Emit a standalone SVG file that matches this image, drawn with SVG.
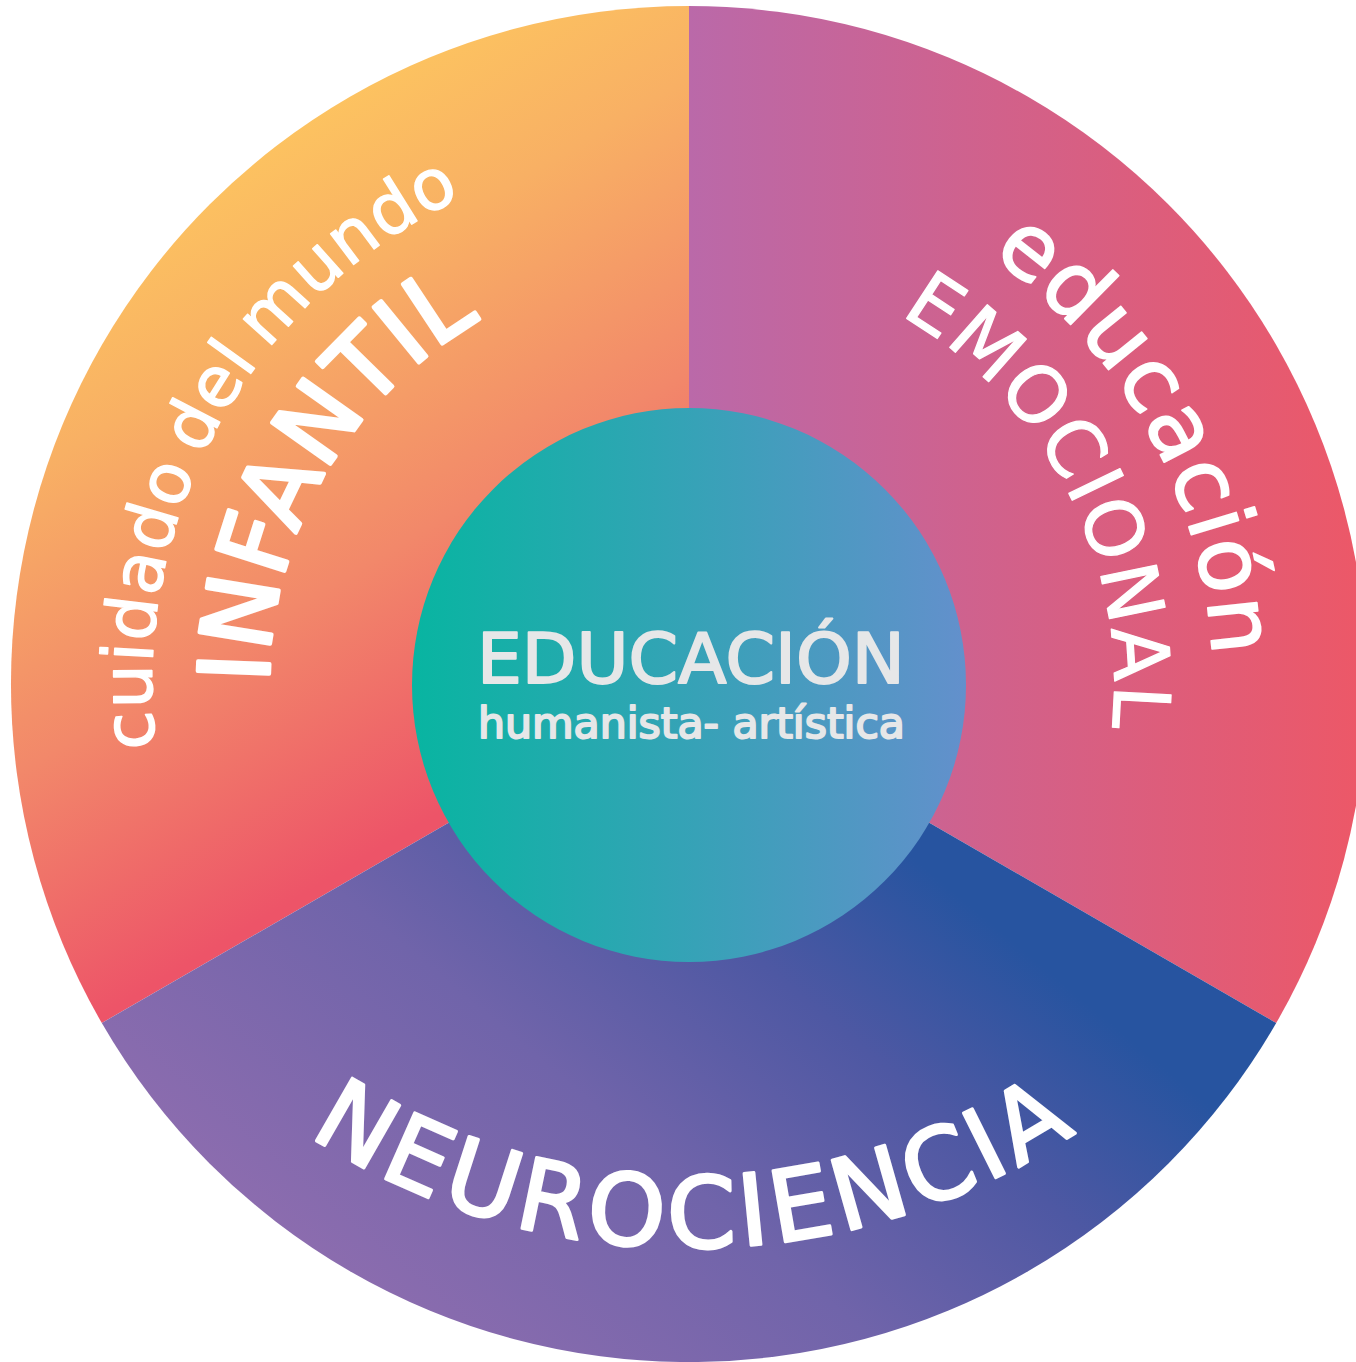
<svg xmlns="http://www.w3.org/2000/svg" xmlns:xlink="http://www.w3.org/1999/xlink" width="1356" height="1362" viewBox="0 0 1356 1362">
  <style>
    .lbl { font-family: "DejaVu Sans", "Liberation Sans", sans-serif; fill: #FFFFFF; stroke: #FFFFFF; stroke-linejoin: round; }
    .small { font-size: 70px; stroke-width: 1.4px; }
    .big { font-size: 98px; stroke-width: 4px; }
    .edu { font-size: 90px; stroke-width: 1.8px; }
    .emo { font-size: 78px; stroke-width: 1.2px; }
    .neuro { font-size: 99px; stroke-width: 3px; }
    .center { font-family: "DejaVu Sans", "Liberation Sans", sans-serif; fill: #E6E7E8; stroke: #E6E7E8; stroke-linejoin: round; text-anchor: middle; }
  </style>
  <defs>
    <linearGradient id="gOrange" gradientUnits="userSpaceOnUse" x1="330" y1="40" x2="700" y2="657">
      <stop offset="0" stop-color="#FEC95F"/>
      <stop offset="0.3" stop-color="#F8B064"/>
      <stop offset="0.65" stop-color="#F2886A"/>
      <stop offset="1" stop-color="#ED5468"/>
    </linearGradient>
    <linearGradient id="gPink" gradientUnits="userSpaceOnUse" x1="689" y1="0" x2="1356" y2="0">
      <stop offset="0" stop-color="#BA69A9"/>
      <stop offset="1" stop-color="#EC5868"/>
    </linearGradient>
    <linearGradient id="gPurple" gradientUnits="userSpaceOnUse" x1="420" y1="1380" x2="880" y2="830">
      <stop offset="0" stop-color="#8E6DAF"/>
      <stop offset="0.45" stop-color="#7064AA"/>
      <stop offset="0.75" stop-color="#4E58A3"/>
      <stop offset="1" stop-color="#2754A0"/>
    </linearGradient>
    <linearGradient id="gCenter" gradientUnits="userSpaceOnUse" x1="412" y1="0" x2="966" y2="0">
      <stop offset="0" stop-color="#08B5A1"/>
      <stop offset="1" stop-color="#6390CC"/>
    </linearGradient>
    <path id="pCuidado" d="M223.94,952.5 A537,537 0 0 1 689,147"/>
    <path id="pInfantil" d="M325.27,894 A420,420 0 0 1 689,264"/>
    <path id="pEducacion" d="M689,160 A524,524 0 0 1 1142.8,946"/>
    <path id="pEmocional" d="M689,259 A425,425 0 0 1 1057.1,896.5"/>
    <path id="pNeuro" d="M83.78,898 A700,700 0 0 0 1296.22,898"/>
  </defs>

  <g id="sector-infantil">
    <path d="M689,684 L689,6 A678,678 0 0 0 101.8,1023 Z" fill="url(#gOrange)"/>
    <text class="lbl small" text-anchor="middle" letter-spacing="1" word-spacing="-8"><textPath href="#pCuidado" xlink:href="#pCuidado" startOffset="553.9">cuidado del mundo</textPath></text>
    <text class="lbl big" text-anchor="middle" letter-spacing="1"><textPath href="#pInfantil" xlink:href="#pInfantil" startOffset="441.3">INFANTIL</textPath></text>
  </g>

  <g id="sector-emocional">
    <path d="M689,684 L689,6 A678,678 0 0 1 1276.2,1023 Z" fill="url(#gPink)"/>
    <text class="lbl edu" text-anchor="middle" letter-spacing="1.7"><textPath href="#pEducacion" xlink:href="#pEducacion" startOffset="559.2">educación</textPath></text>
    <text class="lbl emo" text-anchor="middle" letter-spacing="2.3"><textPath href="#pEmocional" xlink:href="#pEmocional" startOffset="467">EMOCIONAL</textPath></text>
  </g>

  <g id="sector-neurociencia">
    <path d="M689,684 L1276.2,1023 A678,678 0 0 1 101.8,1023 Z" fill="url(#gPurple)"/>
    <text class="lbl neuro" text-anchor="middle" letter-spacing="5"><textPath href="#pNeuro" xlink:href="#pNeuro" startOffset="738">NEUROCIENCIA</textPath></text>
  </g>

  <g id="center">
    <circle cx="689" cy="685" r="277" fill="url(#gCenter)"/>
    <text class="center" x="691" y="683" font-size="69" stroke-width="2" textLength="428" lengthAdjust="spacingAndGlyphs">EDUCACIÓN</text>
    <text class="center" x="691.5" y="738" font-size="42" stroke-width="2" textLength="427" lengthAdjust="spacingAndGlyphs">humanista- artística</text>
  </g>

  <g id="connectors"></g>
</svg>
